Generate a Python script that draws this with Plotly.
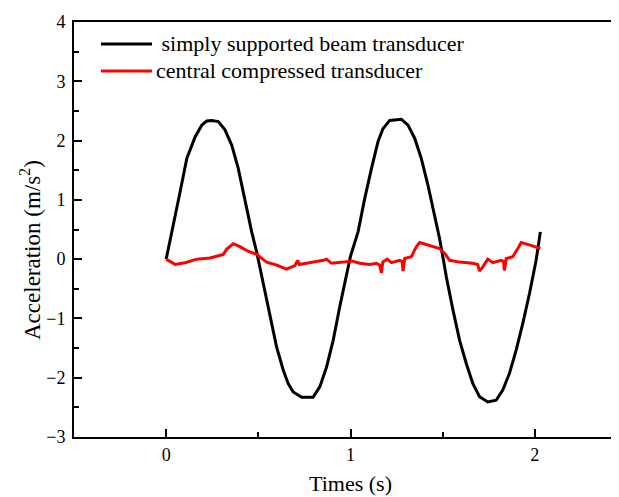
import plotly.graph_objects as go

# Black curve: simply supported beam transducer
t_beam = [0, 0.04, 0.076, 0.112, 0.157, 0.193, 0.22, 0.247, 0.283, 0.319, 0.356, 0.391,
          0.41, 0.437, 0.464, 0.491, 0.527, 0.563, 0.599, 0.635, 0.662, 0.689, 0.735,
          0.797, 0.834, 0.870, 0.906, 0.942, 0.978, 1.0, 1.041, 1.077, 1.114, 1.149,
          1.176, 1.213, 1.276, 1.312, 1.348, 1.384, 1.42, 1.456, 1.483, 1.505, 1.52,
          1.556, 1.592, 1.628, 1.664, 1.70, 1.745, 1.79, 1.826, 1.862, 1.899, 1.935,
          1.971, 2.007, 2.03]
a_beam = [0, 0.57, 1.14, 1.70, 2.06, 2.26, 2.33, 2.34, 2.32, 2.18, 1.92, 1.53,
          1.25, 0.855, 0.46, 0.12, -0.41, -0.97, -1.48, -1.87, -2.10, -2.24, -2.33,
          -2.33, -2.15, -1.82, -1.37, -0.80, -0.24, 0.05, 0.46, 1.02, 1.53, 1.98,
          2.20, 2.34, 2.36, 2.26, 2.04, 1.70, 1.25, 0.74, 0.35, -0.03, -0.30,
          -0.86, -1.37, -1.76, -2.10, -2.32, -2.41, -2.38, -2.21, -1.93, -1.53, -1.08,
          -0.58, -0.02, 0.46]

# Red curve: central compressed transducer
t_comp = [0, 0.049, 0.103, 0.166, 0.238, 0.31, 0.329, 0.364, 0.40, 0.446, 0.491, 0.545,
          0.60, 0.653, 0.698, 0.713, 0.722, 0.78, 0.852, 0.87, 0.897, 0.96, 1.005, 1.05,
          1.104, 1.14, 1.158, 1.168, 1.175, 1.199, 1.222, 1.267, 1.28, 1.285, 1.294,
          1.33, 1.357, 1.375, 1.43, 1.483, 1.51, 1.538, 1.592, 1.664, 1.69, 1.70,
          1.718, 1.745, 1.772, 1.817, 1.83, 1.835, 1.845, 1.88, 1.908, 1.926, 1.97, 2.03]
a_comp = [0, -0.09, -0.06, 0, 0.02, 0.08, 0.17, 0.26, 0.21, 0.13, 0.08, -0.05,
          -0.10, -0.17, -0.11, -0.02, -0.09, -0.06, -0.02, 0, -0.07, -0.05, -0.03, -0.07,
          -0.09, -0.07, -0.10, -0.23, -0.05, 0, -0.06, -0.02, -0.04, -0.20, 0.01,
          0.04, 0.21, 0.28, 0.23, 0.18, 0.10, -0.02, -0.05, -0.07, -0.09, -0.20,
          -0.13, 0, -0.06, -0.02, -0.04, -0.19, 0.01, 0.04, 0.18, 0.28, 0.24, 0.18]

names = [" simply supported beam transducer", "central compressed transducer"]
x_ticks = [0, 1, 2]
y_ticks = [-3, -2, -1, 0, 1, 2, 3, 4]

FONT = "Liberation Serif"
OFF = 8  # page body margin

fig = go.Figure()
fig.add_trace(go.Scatter(x=t_beam, y=a_beam, mode="lines", name=names[0],
                         line=dict(color="black", width=3), showlegend=False))
fig.add_trace(go.Scatter(x=t_comp, y=a_comp, mode="lines", name=names[1],
                         line=dict(color="#ff0000", width=3), showlegend=False))

# plot area in figure pixels
L, W, T, H = 66, 553, 14, 415
def px(x):
    return (x - OFF - L) / W
def py(y):
    return (T + H - (y - OFF)) / H

# Manual legend (lines + labels)
for yy, col in [(44, "black"), (71, "#ff0000")]:
    fig.add_shape(type="line", xref="paper", yref="paper",
                  x0=px(101), x1=px(152), y0=py(yy), y1=py(yy),
                  line=dict(color=col, width=3))
fig.add_annotation(xref="paper", yref="paper", x=px(154), y=py(44), text=names[0],
                   showarrow=False, xanchor="left", yanchor="middle",
                   font=dict(family=FONT, size=22, color="black"))
fig.add_annotation(xref="paper", yref="paper", x=px(154), y=py(71), text=names[1],
                   showarrow=False, xanchor="left", yanchor="middle",
                   font=dict(family=FONT, size=22, color="black"))

# Y axis title
fig.add_annotation(xref="paper", yref="paper", x=px(30), y=py(250),
                   text="Acceleration (m/s<sup>2</sup>)", textangle=-90,
                   showarrow=False, xanchor="center", yanchor="middle",
                   font=dict(family=FONT, size=23, color="black"))

fig.update_layout(
    width=619, height=497,
    margin=dict(l=L, r=0, t=T, b=497 - T - H),
    paper_bgcolor="white", plot_bgcolor="white",
    font=dict(family=FONT, size=18, color="black"),
    xaxis=dict(range=[-0.5, 2.5], tickvals=x_ticks, ticks="inside", ticklen=8,
               tickwidth=1.5, tickcolor="black", showline=True, linewidth=2,
               linecolor="black", mirror=True, showgrid=False, zeroline=False,
               minor=dict(dtick=0.5, tick0=0, ticks="inside", ticklen=5,
                          tickwidth=1.5, tickcolor="black", showgrid=False),
               ticklabelstandoff=0,
               title=dict(text="Times (s)", font=dict(family=FONT, size=22),
                          standoff=12)),
    yaxis=dict(range=[-3, 4], tickvals=y_ticks, ticks="inside", ticklen=8,
               tickwidth=1.5, tickcolor="black", showline=True, linewidth=2,
               linecolor="black", mirror=False, showgrid=False, zeroline=False,
               minor=dict(dtick=0.5, tick0=0, ticks="inside", ticklen=5,
                          tickwidth=1.5, tickcolor="black", showgrid=False),
               ticklabelstandoff=3),
)

fig.write_html("out.html")
